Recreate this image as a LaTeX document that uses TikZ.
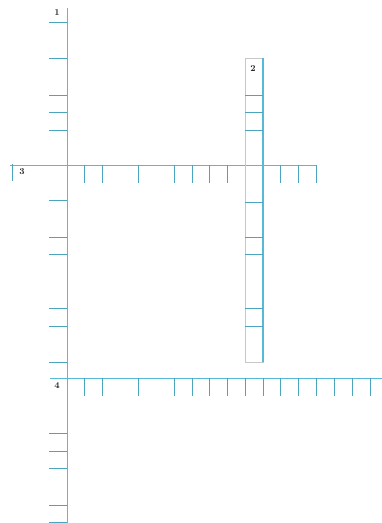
\documentclass[tikz,border=0pt]{standalone}
\begin{document}
\begin{tikzpicture}[x=1pt,y=-1pt,
  axisline/.style={draw=axisblue,line width=1pt},
  tickline/.style={draw=tickteal,line width=0.8pt},
  faintline/.style={draw=black!22,line width=0.5pt},
  lab/.style={font=\small\bfseries,text=black!85,inner sep=1pt}]
\definecolor{axisblue}{RGB}{85,185,215}
\definecolor{tickteal}{RGB}{75,165,190}
\useasboundingbox (0,0) rectangle (382,523);
% labels
\node[lab] (l1) at (57,13) {1};
\node[lab] (l2) at (253,69) {2};
\node[lab] (l3) at (22,172) {3};
\node[lab] (l4) at (57,386) {4};
% axis 1 (vertical)
\coordinate (a1t) at (67,8);
\coordinate (a1b) at (67,523);
\draw[axisline] (a1t) -- (a1b);
\foreach \y in {22,58,95,112,130,200,237,254,308,326,362,433,451,468,505,522}
  \draw[tickline] (49,\y) -- (67,\y);
% axis 3 (horizontal)
\coordinate (a3l) at (10,165);
\coordinate (a3r) at (316,165);
\draw[axisline] (a3l) -- (a3r);
\draw[tickline] (12,164) -- (12,181);
\foreach \x in {84,102,138,174,192,209,227,245,280,298,316}
  \draw[tickline] (\x,165) -- (\x,183);
% axis 4 (horizontal)
\coordinate (a4l) at (50,378);
\coordinate (a4r) at (382,378);
\draw[axisline] (a4l) -- (a4r);
\foreach \x in {84,102,138,174,192,209,227,245,263,280,298,316,334,352,370}
  \draw[tickline] (\x,378) -- (\x,396);
% bar 2
\draw[faintline] (245,58) rectangle (263,362);
\draw[axisline,line width=1.4pt] (263,58) -- (263,362);
\foreach \y in {95,112,130,202,237,254,308,326}
  \draw[tickline] (245,\y) -- (263,\y);
\end{tikzpicture}
\end{document}
